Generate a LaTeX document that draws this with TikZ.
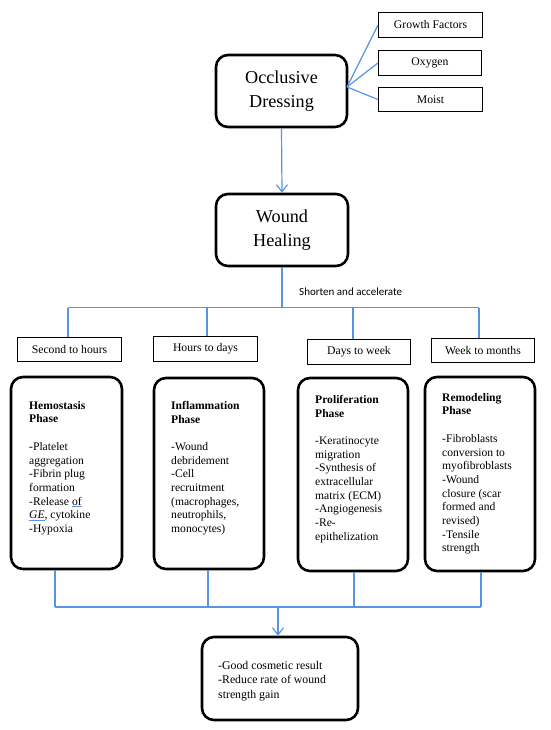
\documentclass[tikz,border=0pt]{standalone}
\usepackage{fontspec}
\setmainfont{Liberation Serif}
\newfontfamily\serifmain{Liberation Serif}
\newfontfamily\calfont{Carlito}
\usetikzlibrary{arrows.meta,positioning}
\definecolor{lineblue}{RGB}{88,148,224}
\newcommand{\blueul}[1]{{\color{lineblue}\underline{\textcolor{black}{#1}}}}
\tikzset{
  bigbox/.style={draw, line width=2.6pt, rounded corners=12pt, inner sep=0pt, align=center},
  tbox/.style={draw, line width=1.1pt, inner sep=0pt, font=\serifmain\fontsize{11.7}{13}\selectfont},
  phasetext/.style={anchor=north west, inner sep=0pt, align=left, font=\serifmain\fontsize{11.6}{13.7}\selectfont},
  conn/.style={draw=lineblue, line width=1.2pt},
  arr/.style={conn, -{Straight Barb[length=7pt,width=11pt,line width=1.2pt]}},
}
\begin{document}
\begin{tikzpicture}[x=1pt,y=-1pt]
\useasboundingbox (0,0) rectangle (550,730);

% top
\node[bigbox, minimum width=131pt, minimum height=72pt, font=\serifmain\fontsize{18.2}{23.5}\selectfont] (occ) at (281.5,91) {Occlusive\\Dressing};
\node[tbox, minimum width=104pt, minimum height=25pt] (gf) at (430.5,25) {Growth Factors};
\node[tbox, minimum width=103pt, minimum height=25pt] (oxy) at (430,63) {Oxygen};
\node[tbox, minimum width=104pt, minimum height=24pt] (moist) at (430.5,99.5) {Moist};
\coordinate (fan) at (347,87);
\draw[conn] (fan) -- (gf.west);
\draw[conn] (fan) -- (oxy.west);
\draw[conn] (fan) -- (moist.west);

\node[bigbox, minimum width=132pt, minimum height=72pt, font=\serifmain\fontsize{18.2}{23.5}\selectfont] (wh) at (282,230) {Wound\\Healing};
\draw[arr] (occ.south) -- (wh.north);

\coordinate (busmid) at (282,307.5);
\draw[conn] (wh.south) -- (busmid);
\node[anchor=west, inner sep=0pt, font=\calfont\fontsize{11}{13}\selectfont] (sa) at (299,292) {Shorten and accelerate};

\coordinate (b1) at (68,307.5);
\coordinate (b2) at (207,307.5);
\coordinate (b3) at (353,307.5);
\coordinate (b4) at (479,307.5);
\draw[conn] (b1) -- (b4);

% time boxes
\node[tbox, minimum width=104pt, minimum height=24pt] (t1) at (69.5,349.5) {Second to hours};
\node[tbox, minimum width=104pt, minimum height=25pt] (t2) at (205.5,349) {Hours to days};
\node[tbox, minimum width=103pt, minimum height=25pt] (t3) at (359,352) {Days to week};
\node[tbox, minimum width=103pt, minimum height=24pt] (t4) at (483,350.5) {Week to months};
\draw[conn] (b1) -- (b1 |- t1.north);
\draw[conn] (b2) -- (b2 |- t2.north);
\draw[conn] (b3) -- (b3 |- t3.north);
\draw[conn] (b4) -- (b4 |- t4.north);

% phase boxes
\node[bigbox, minimum width=111pt, minimum height=192pt] (p1) at (66.5,473) {};
\node[bigbox, minimum width=110pt, minimum height=191pt] (p2) at (209,473.5) {};
\node[bigbox, minimum width=110pt, minimum height=193pt] (p3) at (353,474.5) {};
\node[bigbox, minimum width=110pt, minimum height=194pt] (p4) at (480,474) {};

\node[phasetext] (p1t) at (29,401) {\textbf{Hemostasis}\\\textbf{Phase}\\[13.7pt]-Platelet\\aggregation\\-Fibrin plug\\formation\\-Release \blueul{of}\\\blueul{\textit{GE}}, cytokine\\-Hypoxia};
\node[phasetext] (p2t) at (171,401) {\textbf{Inflammation}\\\textbf{Phase}\\[13.7pt]-Wound\\debridement\\-Cell\\recruitment\\(macrophages,\\neutrophils,\\monocytes)};
\node[phasetext] (p3t) at (315,395) {\textbf{Proliferation}\\\textbf{Phase}\\[13.7pt]-Keratinocyte\\migration\\-Synthesis of\\extracellular\\matrix (ECM)\\-Angiogenesis\\-Re-\\epithelization};
\node[phasetext] (p4t) at (442,393) {\textbf{Remodeling}\\\textbf{Phase}\\[13.7pt]-Fibroblasts\\conversion to\\myofibroblasts\\-Wound\\closure (scar\\formed and\\revised)\\-Tensile\\strength};

% bottom bus
\coordinate (c1) at (55,607);
\coordinate (c2) at (208,607);
\coordinate (c3) at (354,607);
\coordinate (c4) at (481,607);
\coordinate (cmid) at (278,607);
\draw[conn] (c1 |- p1.south) -- (c1);
\draw[conn] (c2 |- p2.south) -- (c2);
\draw[conn] (c3 |- p3.south) -- (c3);
\draw[conn] (c4 |- p4.south) -- (c4);
\draw[conn] (c1) -- (c4);

\node[bigbox, minimum width=156pt, minimum height=83pt] (fin) at (280,678.5) {};
\draw[arr] (cmid) -- (cmid |- fin.north);
\node[phasetext, font=\serifmain\fontsize{11.8}{14.5}\selectfont] (fint) at (218,661) {-Good cosmetic result\\-Reduce rate of wound\\strength gain};
\end{tikzpicture}
\end{document}
